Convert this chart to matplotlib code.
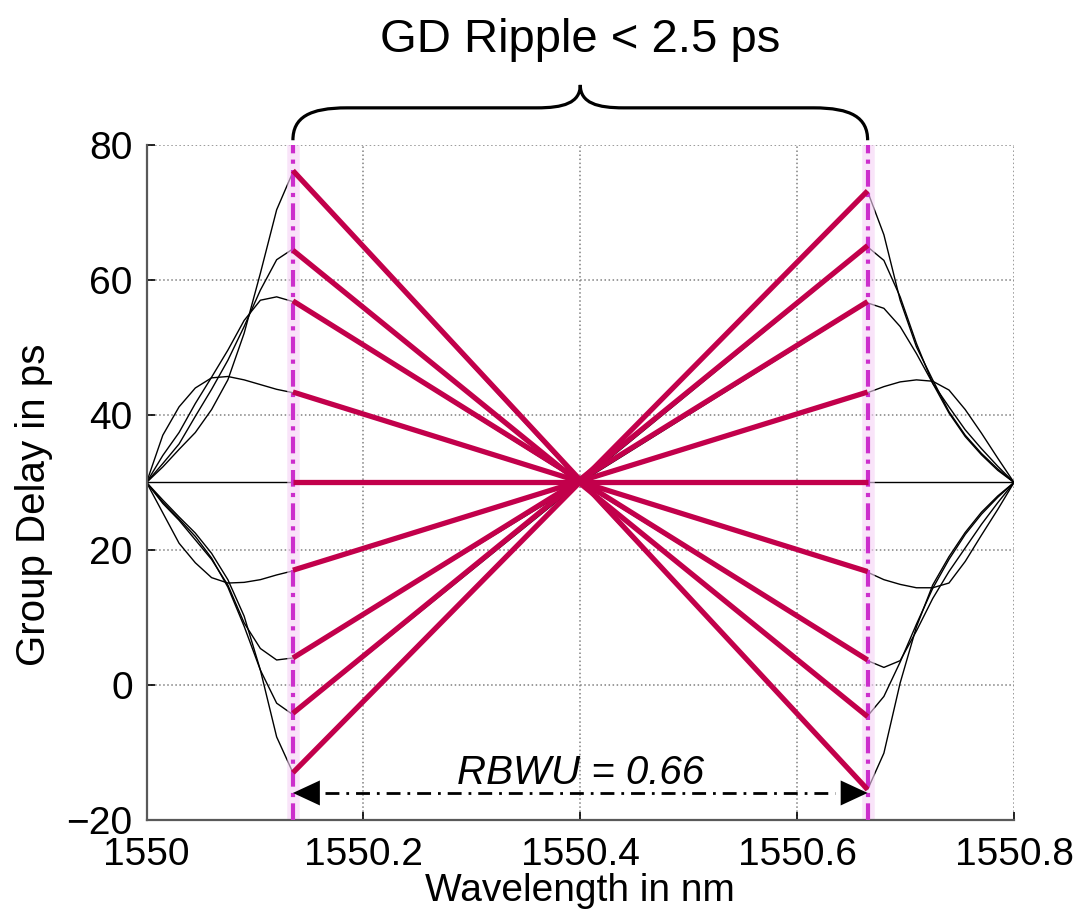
import matplotlib
matplotlib.use("Agg")
import matplotlib.pyplot as plt
import matplotlib.transforms as mtransforms
from matplotlib.path import Path
from matplotlib.patches import PathPatch

plt.rcParams['font.family'] = ['Liberation Sans', 'DejaVu Sans']

# wavelength samples (nm) outside the usable band, plus band centre
wl_left = [1550.0, 1550.015, 1550.03, 1550.045, 1550.06, 1550.075, 1550.09, 1550.105, 1550.12, 1550.135]
wl_right = [1550.665, 1550.68, 1550.695, 1550.71, 1550.725, 1550.74, 1550.755, 1550.77, 1550.785, 1550.8]
wl_center = 1550.4
gd_center = 30

# group delay (ps) of each curve, left part (top curve first)
gd_left_1 = [30, 32.3, 34.9, 37.4, 40.8, 45.2, 52.1, 61.0, 70.4, 76.0]
gd_left_2 = [30, 32.8, 35.7, 39.8, 43.8, 48.1, 53.1, 58.5, 63.0, 64.6]
gd_left_3 = [30, 34.0, 37.4, 41.7, 45.6, 49.6, 54.0, 57.0, 57.5, 56.8]
gd_left_4 = [30, 37.0, 41.2, 44.0, 45.5, 45.7, 45.2, 44.5, 43.8, 43.3]
gd_left_5 = [30, 30, 30, 30, 30, 30, 30, 30, 30, 30]
gd_left_6 = [30, 25.5, 21.0, 18.1, 15.9, 15.1, 15.2, 15.6, 16.3, 16.9]
gd_left_7 = [30, 26.9, 24.4, 21.5, 18.6, 14.8, 9.2, 5.4, 3.7, 4.0]
gd_left_8 = [30, 27.1, 24.6, 22.0, 18.8, 14.5, 8.7, 2.2, -2.7, -4.4]
gd_left_9 = [30, 27.4, 24.9, 22.5, 19.5, 15.6, 10.2, 2.2, -7.7, -13.0]

# group delay (ps) of each curve, right part (same order)
gd_right_1 = [-15.5, -10.1, 0.3, 8.6, 14.8, 19.0, 22.6, 25.6, 28.0, 30]
gd_right_2 = [-4.6, -1.7, 3.4, 9.0, 14.3, 18.6, 22.3, 25.3, 27.8, 30]
gd_right_3 = [3.6, 2.6, 3.6, 8.0, 12.8, 16.8, 20.3, 23.8, 27.0, 30]
gd_right_4 = [16.7, 15.6, 14.9, 14.4, 14.4, 15.1, 18.3, 22.2, 26.0, 30]
gd_right_5 = [30, 30, 30, 30, 30, 30, 30, 30, 30, 30]
gd_right_6 = [43.3, 44.2, 44.9, 45.2, 45.0, 43.7, 40.8, 37.3, 33.6, 30]
gd_right_7 = [56.6, 55.8, 53.1, 49.1, 44.7, 41.2, 37.8, 35.0, 32.4, 30]
gd_right_8 = [64.9, 62.9, 57.5, 50.6, 44.7, 40.3, 36.8, 34.1, 31.8, 30]
gd_right_9 = [73.1, 66.7, 57.0, 50.1, 45.2, 40.5, 37.0, 34.3, 32.0, 30]

gd_left = [gd_left_1, gd_left_2, gd_left_3, gd_left_4, gd_left_5,
           gd_left_6, gd_left_7, gd_left_8, gd_left_9]
gd_right = [gd_right_1, gd_right_2, gd_right_3, gd_right_4, gd_right_5,
            gd_right_6, gd_right_7, gd_right_8, gd_right_9]

# linear fits inside the band
band_lo = 1550.135
band_hi = 1550.665
fit_left = [76.2, 64.4, 56.9, 43.4, 30, 17.0, 4.0, -4.2, -13.0]
fit_right = [-15.5, -4.7, 3.7, 16.8, 30, 43.4, 56.8, 65.1, 73.2]

arrow_gd = -16
label_gd = -14.7

fig = plt.figure(figsize=(10.83, 9.24), dpi=100)
ax = fig.add_axes([0.1353, 0.1126, 0.8010, 0.7305])

# black group delay curves
for yl, yr in zip(gd_left, gd_right):
    ax.plot(wl_left + [wl_center] + wl_right, yl + [gd_center] + yr,
            color='k', lw=1.0, zorder=2)

# band edges
for xv in [band_lo, band_hi]:
    ax.axvline(xv, color='#f6d3f6', lw=9, alpha=0.6, zorder=2.5)
    ax.axvline(xv, color='#cc2ecc', lw=3, linestyle=(0, (4, 1.5, 1, 1.5)), zorder=3)

# linear fits
for yl, yr in zip(fit_left, fit_right):
    ax.plot([band_lo, band_hi], [yl, yr], color='#c2004b', lw=3.8,
            solid_capstyle='butt', zorder=4)

# RBWU arrow
ax.plot([band_lo + 0.03, band_hi - 0.03], [arrow_gd, arrow_gd], color='k', lw=2,
        linestyle=(0, (5, 2.5, 1, 2.5)), zorder=5)
for tip, tail in [(band_lo, band_lo + 0.04), (band_hi, band_hi - 0.04)]:
    ax.annotate('', xy=(tip, arrow_gd), xytext=(tail, arrow_gd),
                arrowprops=dict(arrowstyle='-|>,head_length=0.97,head_width=0.45',
                                mutation_scale=20, color='k', lw=0,
                                shrinkA=0, shrinkB=0), zorder=6)
ax.text(wl_center, label_gd, 'RBWU = 0.66', style='italic', fontsize=29,
        ha='center', va='baseline', zorder=6)

# brace above the band
trans = mtransforms.blended_transform_factory(ax.transData, ax.transAxes)
xc = (band_lo + band_hi) / 2
r1, r2 = 0.05, 0.04
yb, ym, yt = 1.007, 1.055, 1.089
verts = [(band_lo, yb),
         (band_lo, yb + 0.7 * (ym - yb)), (band_lo + 0.3 * r1, ym), (band_lo + r1, ym),
         (xc - r2, ym),
         (xc - 0.4 * r2, ym), (xc, ym + 0.2 * (yt - ym)), (xc, yt),
         (xc, ym + 0.2 * (yt - ym)), (xc + 0.4 * r2, ym), (xc + r2, ym),
         (band_hi - r1, ym),
         (band_hi - 0.3 * r1, ym), (band_hi, yb + 0.7 * (ym - yb)), (band_hi, yb)]
codes = [Path.MOVETO,
         Path.CURVE4, Path.CURVE4, Path.CURVE4,
         Path.LINETO,
         Path.CURVE4, Path.CURVE4, Path.CURVE4,
         Path.CURVE4, Path.CURVE4, Path.CURVE4,
         Path.LINETO,
         Path.CURVE4, Path.CURVE4, Path.CURVE4]
ax.add_patch(PathPatch(Path(verts, codes), transform=trans, fill=False,
                       lw=2.3, color='k', clip_on=False, zorder=6))
ax.text(xc, 1.138, 'GD Ripple < 2.5 ps', transform=trans, fontsize=34,
        ha='center', va='baseline')

ax.set_xlim(1550, 1550.8)
ax.set_ylim(-20, 80)
ax.set_xticks([1550, 1550.2, 1550.4, 1550.6, 1550.8])
ax.set_xticklabels(['1550', '1550.2', '1550.4', '1550.6', '1550.8'])
ax.set_yticks([-20, 0, 20, 40, 60, 80])
ax.grid(True, linestyle=':', color='0.5', lw=1.1)
ax.spines['top'].set_visible(False)
ax.spines['right'].set_visible(False)
for s in ['left', 'bottom']:
    ax.spines[s].set_color('0.35')
    ax.spines[s].set_linewidth(1.6)
ax.tick_params(direction='in', length=6, width=1.2, labelsize=28, pad=10)
ax.tick_params(axis='x', pad=12)

ax.set_xlabel('Wavelength in nm', fontsize=28)
ax.set_ylabel('Group Delay in ps', fontsize=29)
ax.xaxis.set_label_coords(0.5, -0.078)
ax.yaxis.set_label_coords(-0.108, 0.467)

fig.savefig('out.png', dpi=100)
